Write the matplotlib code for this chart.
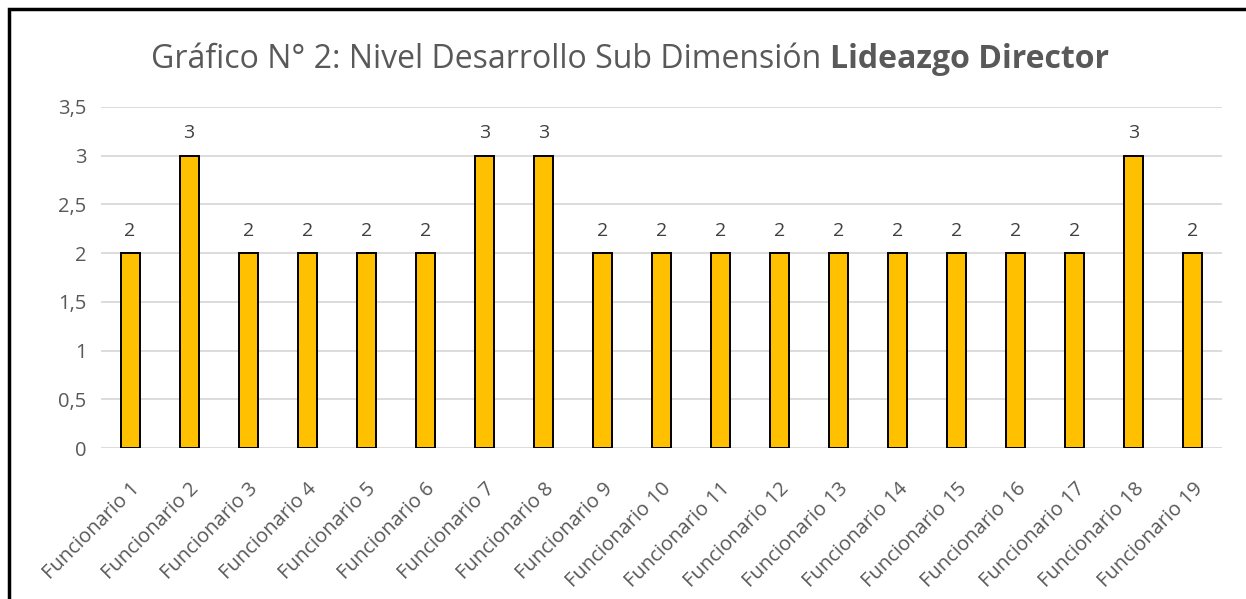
import matplotlib.pyplot as plt
from matplotlib.patches import Rectangle

categories = ['Funcionario %d' % i for i in range(1, 20)]
values = [2, 3, 2, 2, 2, 2, 3, 3, 2, 2, 2, 2, 2, 2, 2, 2, 2, 3, 2]
yticks = [0, 0.5, 1, 1.5, 2, 2.5, 3, 3.5]
ytick_labels = ['0', '0,5', '1', '1,5', '2', '2,5', '3', '3,5']

plt.rcParams['font.family'] = ['Open Sans', 'DejaVu Sans']

fig = plt.figure(figsize=(12.46, 5.99), dpi=100)
ax = fig.add_axes([0.0807, 0.252, 0.9003, 0.5694])

x = range(len(categories))
bars = ax.bar(x, values, width=0.32, color='#FFC000', edgecolor='black',
              linewidth=1.4, zorder=3)

for xi, v in zip(x, values):
    ax.text(xi, v + 0.14, str(v), ha='center', va='bottom',
            fontsize=14, color='#404040')

ax.set_xlim(-0.5, len(categories) - 0.5)
ax.set_ylim(0, 3.5)
ax.set_yticks(yticks)
ax.set_yticklabels(ytick_labels, fontsize=14.5, color='#595959')
ax.set_xticks(list(x))
ax.set_xticklabels(categories, rotation=45, ha='right', rotation_mode='anchor',
                   fontsize=14.5, color='#595959')
ax.tick_params(length=0, pad=10)
ax.tick_params(axis='x', pad=22)
ax.yaxis.grid(True, color='#D9D9D9', linewidth=1.3, zorder=0)
for s in ax.spines.values():
    s.set_visible(False)

# title with bold tail
t1 = fig.text(0.5, 0.9, 'Gráfico N° 2: Nivel Desarrollo Sub Dimensión ',
              fontsize=23, color='#595959', ha='right', va='center')
fig.canvas.draw()
r = fig.canvas.get_renderer()
w1 = t1.get_window_extent(r).width
t2 = fig.text(0.5, 0.9, 'Lideazgo Director', fontsize=23, color='#595959',
              fontweight='bold', ha='left', va='center')
w2 = t2.get_window_extent(r).width
total = w1 + w2
cx = 630
t1.set_x((cx - total / 2 + w1) / 1246)
t2.set_x((cx - total / 2 + w1) / 1246)

# outer chart border
fig.patches.append(Rectangle((9 / 1246, -0.1), 1.2, (599 - 9) / 599 + 0.1,
                             transform=fig.transFigure, fill=False,
                             edgecolor='black', linewidth=2.5))

fig.savefig('out.png', dpi=100)
